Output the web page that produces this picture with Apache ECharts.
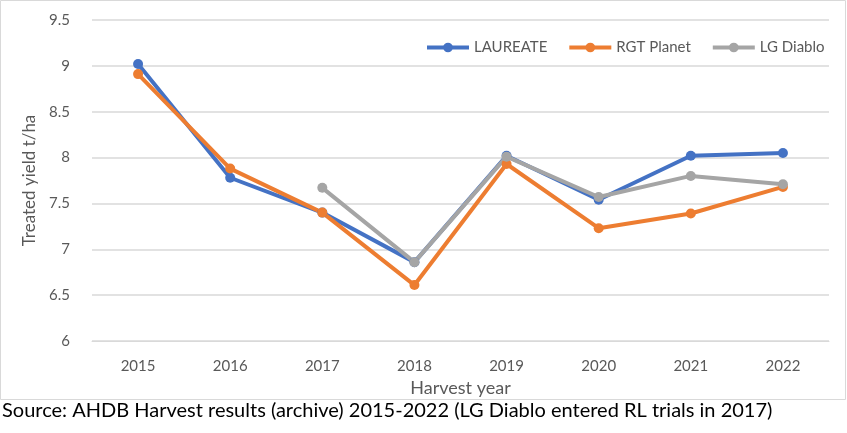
<!DOCTYPE html>
<html>
<head>
<meta charset="utf-8">
<script src="https://cdn.jsdelivr.net/npm/echarts@6/dist/echarts.min.js"></script>
<style>
  html, body { margin: 0; padding: 0; background: #fff; }
  #chart { width: 847px; height: 433px; }
</style>
</head>
<body>
<div id="chart"></div>
<script>
var years = ['2015', '2016', '2017', '2018', '2019', '2020', '2021', '2022'];
var laureate = [9.02, 7.78, 7.40, 6.86, 8.02, 7.54, 8.02, 8.05];
var rgtPlanet = [8.91, 7.88, 7.40, 6.61, 7.93, 7.23, 7.39, 7.68];
var lgDiablo = [null, null, 7.67, 6.86, 8.01, 7.57, 7.80, 7.71];

var myChart = echarts.init(document.getElementById('chart'));
var font = 'Lato, "Open Sans", sans-serif';

function makeSeries(name, data, color) {
    return {
        name: name,
        type: 'line',
        data: data,
        symbol: 'circle',
        symbolSize: 10,
        lineStyle: { width: 4, color: color },
        itemStyle: { color: color },
        connectNulls: false
    };
}

var option = {
    animation: false,
    textStyle: { fontFamily: font },
    graphic: [
        {
            type: 'rect',
            shape: { x: 0.5, y: 0.5, width: 845, height: 399 },
            style: { fill: 'none', stroke: '#d9d9d9', lineWidth: 1 }
        },
        {
            type: 'text',
            left: 2,
            top: 401,
            style: {
                text: 'Source: AHDB Harvest results (archive) 2015-2022 (LG Diablo entered RL trials in 2017)',
                font: '20px ' + font,
                fill: '#000'
            }
        }
    ],
    legend: {
        top: 35,
        left: 420,
        itemWidth: 42,
        itemHeight: 12,
        itemGap: 20,
        lineStyle: { width: 4 },
        textStyle: { fontSize: 15, color: '#595959', fontFamily: font },
        data: ['LAUREATE', 'RGT Planet', 'LG Diablo']
    },
    grid: {
        left: 92,
        right: 18,
        top: 20,
        bottom: 92
    },
    xAxis: {
        type: 'category',
        data: years,
        name: 'Harvest year',
        nameLocation: 'middle',
        nameGap: 33,
        nameTextStyle: { fontSize: 18, color: '#595959' },
        axisLine: { show: true, lineStyle: { color: '#d9d9d9', width: 1 } },
        axisTick: { show: false },
        axisLabel: { fontSize: 15, color: '#595959', margin: 18 }
    },
    yAxis: {
        type: 'value',
        min: 6,
        max: 9.5,
        interval: 0.5,
        name: 'Treated yield t/ha',
        nameLocation: 'middle',
        nameGap: 47,
        nameTextStyle: { fontSize: 17, color: '#595959' },
        axisLine: { show: false },
        axisTick: { show: false },
        axisLabel: { fontSize: 15, color: '#595959', margin: 22 },
        splitLine: { lineStyle: { color: '#d9d9d9', width: 1.5 } }
    },
    series: [
        makeSeries('LAUREATE', laureate, '#4472c4'),
        makeSeries('RGT Planet', rgtPlanet, '#ed7d31'),
        makeSeries('LG Diablo', lgDiablo, '#a5a5a5')
    ]
};

myChart.setOption(option);
</script>
</body>
</html>
